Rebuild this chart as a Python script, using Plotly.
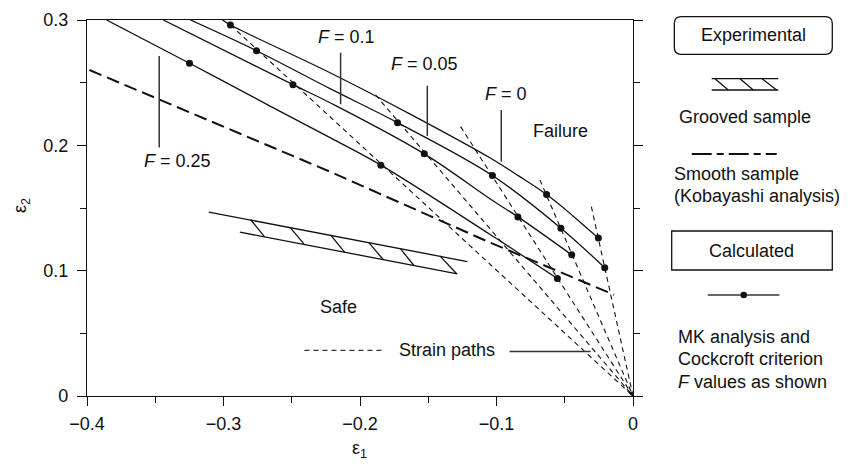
import plotly.graph_objects as go

# ---------------- data (eps1, eps2) ----------------
x_tick_vals = [-0.4, -0.3, -0.2, -0.1, 0.0]
x_tick_text = ["\u22120.4", "\u22120.3", "\u22120.2", "\u22120.1", "0"]
x_minor_vals = [-0.35, -0.25, -0.15, -0.05]
y_tick_vals = [0.0, 0.1, 0.2, 0.3]
y_tick_text = ["0", "0.1", "0.2", "0.3"]
y_minor_vals = [0.05, 0.15, 0.25]

# Calculated forming limit curves (MK analysis + Cockcroft criterion)
f0_e1 = [-0.3007, -0.2949, -0.2216, -0.1629, -0.1043, -0.0838, -0.0633, -0.0442, -0.0254]
f0_e2 = [0.3000, 0.2960, 0.2577, 0.2247, 0.1897, 0.1756, 0.1607, 0.1439, 0.1260]
f005_e1 = [-0.3242, -0.2758, -0.2216, -0.1725, -0.1030, -0.0528, -0.0207]
f005_e2 = [0.3000, 0.2755, 0.2450, 0.2181, 0.1759, 0.1339, 0.1023]
f01_e1 = [-0.3441, -0.2491, -0.2216, -0.1529, -0.1043, -0.0843, -0.0449]
f01_e2 = [0.3000, 0.2484, 0.2338, 0.1932, 0.1570, 0.1429, 0.1126]
f025_e1 = [-0.3857, -0.3249, -0.2655, -0.2216, -0.1847, -0.1043, -0.0554]
f025_e2 = [0.3000, 0.2655, 0.2311, 0.2059, 0.1842, 0.1286, 0.0937]

# MK points (dots)
dots_f0_e1 = [-0.2949, -0.0633, -0.0254]
dots_f0_e2 = [0.2960, 0.1607, 0.1260]
dots_f005_e1 = [-0.2758, -0.1725, -0.1030, -0.0528, -0.0207]
dots_f005_e2 = [0.2755, 0.2181, 0.1759, 0.1339, 0.1023]
dots_f01_e1 = [-0.2491, -0.1529, -0.0843, -0.0449]
dots_f01_e2 = [0.2484, 0.1932, 0.1429, 0.1126]
dots_f025_e1 = [-0.3249, -0.1847, -0.0554]
dots_f025_e2 = [0.2655, 0.1842, 0.0937]

# Strain paths: straight from origin to these outer points
path_end_e1 = [-0.2949, -0.1886, -0.1263, -0.0682, -0.0305]
path_end_e2 = [0.2960, 0.2402, 0.2149, 0.1724, 0.1511]

# Smooth sample (Kobayashi analysis)
smooth_e1 = [-0.3982, -0.2216, -0.1043, -0.0139]
smooth_e2 = [0.2601, 0.1788, 0.1222, 0.0808]

# Grooved sample band
groove_top_e1 = [-0.3108, -0.1214]
groove_top_e2 = [0.1467, 0.1073]
groove_bot_e1 = [-0.2880, -0.1287]
groove_bot_e2 = [0.1307, 0.0975]
hatch_top_e1 = [-0.2802, -0.2514, -0.2216, -0.1935, -0.1703, -0.1415]
hatch_top_e2 = [0.1408, 0.1347, 0.1286, 0.1224, 0.1174, 0.1118]
hatch_bot_e1 = [-0.2700, -0.2411, -0.2113, -0.1829, -0.1605, -0.1292]
hatch_bot_e2 = [0.1272, 0.1214, 0.1148, 0.1087, 0.1041, 0.0975]

# ---------------- figure ----------------
W, H = 855, 464
ML, MR, MT, MB = 87, 222, 20, 68
PW, PH = W - ML - MR, H - MT - MB
FONT = "Liberation Sans, Arial, Helvetica, sans-serif"
BLACK = "#111111"


def px_x(px):
    return (px - ML) / PW


def px_y(py):
    return (H - MB - py) / PH


fig = go.Figure()

# strain paths
sp_x, sp_y = [], []
for ex, ey in zip(path_end_e1, path_end_e2):
    sp_x += [ex, 0.0, None]
    sp_y += [ey, 0.0, None]
fig.add_trace(go.Scatter(x=sp_x, y=sp_y, mode="lines",
                         line=dict(color=BLACK, width=1.1, dash="5px,4px"),
                         hoverinfo="skip"))

# smooth sample
fig.add_trace(go.Scatter(x=smooth_e1, y=smooth_e2, mode="lines",
                         line=dict(color=BLACK, width=2, dash="13px,6px"),
                         hoverinfo="skip"))

# grooved band
fig.add_trace(go.Scatter(x=groove_top_e1, y=groove_top_e2, mode="lines",
                         line=dict(color=BLACK, width=1.3), hoverinfo="skip"))
fig.add_trace(go.Scatter(x=groove_bot_e1, y=groove_bot_e2, mode="lines",
                         line=dict(color=BLACK, width=1.3), hoverinfo="skip"))
hx, hy = [], []
for a, b, c, d in zip(hatch_top_e1, hatch_top_e2, hatch_bot_e1, hatch_bot_e2):
    hx += [a, c, None]
    hy += [b, d, None]
fig.add_trace(go.Scatter(x=hx, y=hy, mode="lines",
                         line=dict(color=BLACK, width=1.3), hoverinfo="skip"))

# calculated curves
for cx, cy in [(f0_e1, f0_e2), (f005_e1, f005_e2), (f01_e1, f01_e2), (f025_e1, f025_e2)]:
    fig.add_trace(go.Scatter(x=cx, y=cy, mode="lines",
                             line=dict(color=BLACK, width=1.3, shape="spline", smoothing=1.0),
                             hoverinfo="skip"))
for dx, dy in [(dots_f0_e1, dots_f0_e2), (dots_f005_e1, dots_f005_e2),
               (dots_f01_e1, dots_f01_e2), (dots_f025_e1, dots_f025_e2)]:
    fig.add_trace(go.Scatter(x=dx, y=dy, mode="markers",
                             marker=dict(color=BLACK, size=7), hoverinfo="skip"))

# origin marker
fig.add_trace(go.Scatter(x=[-0.0012], y=[0.002], mode="markers",
                         marker=dict(color=BLACK, size=5, symbol="triangle-down"),
                         hoverinfo="skip"))

# invisible trace on right axis
fig.add_trace(go.Scatter(x=[None], y=[None], yaxis="y2", hoverinfo="skip"))

axis_font = dict(family=FONT, size=18, color=BLACK)
fig.update_layout(
    width=W, height=H, autosize=False,
    margin=dict(l=ML, r=MR, t=MT, b=MB, autoexpand=False),
    paper_bgcolor="white", plot_bgcolor="white",
    showlegend=False,
    font=dict(family=FONT, size=18, color=BLACK),
    xaxis=dict(range=[-0.4, 0.0], tickvals=x_tick_vals, ticktext=x_tick_text,
               ticks="outside", ticklen=9, tickwidth=1.3, tickcolor=BLACK,
               showline=True, linecolor=BLACK, linewidth=1.3, mirror=True,
               showgrid=False, zeroline=False, tickfont=axis_font, automargin=False,
               ticklabelstandoff=2,
               minor=dict(tickvals=x_minor_vals, ticks="outside", ticklen=6,
                          tickwidth=1.3, tickcolor=BLACK, showgrid=False)),
    yaxis=dict(range=[0.0, 0.3], tickvals=y_tick_vals, ticktext=y_tick_text,
               ticks="outside", ticklen=9, tickwidth=1.3, tickcolor=BLACK,
               showline=True, linecolor=BLACK, linewidth=1.3, mirror=True,
               showgrid=False, zeroline=False, tickfont=axis_font, automargin=False,
               ticklabelstandoff=5,
               minor=dict(tickvals=y_minor_vals, ticks="outside", ticklen=6,
                          tickwidth=1.3, tickcolor=BLACK, showgrid=False)),
    yaxis2=dict(range=[0.0, 0.3], overlaying="y", side="right", anchor="x",
                tickvals=y_tick_vals, showticklabels=False, automargin=False,
                ticks="outside", ticklen=9, tickwidth=1.3, tickcolor=BLACK,
                showline=False, showgrid=False, zeroline=False,
                minor=dict(tickvals=y_minor_vals, ticks="outside", ticklen=6,
                           tickwidth=1.3, tickcolor=BLACK, showgrid=False)),
)

shapes = []
annotations = []

# indicator lines for F labels (data coords)
indicators = [(-0.3471, 0.2713, 0.1982), (-0.2142, 0.2739, 0.2328),
              (-0.1507, 0.2476, 0.2075), (-0.0965, 0.2282, 0.1870)]
for x0, y0, y1 in indicators:
    shapes.append(dict(type="line", xref="x", yref="y", x0=x0, x1=x0, y0=y0, y1=y1,
                       line=dict(color="#333333", width=1.5)))

# strain paths leader
shapes.append(dict(type="line", xref="x", yref="y", x0=-0.2407, x1=-0.1814, y0=0.0364, y1=0.0364,
                   line=dict(color="#333333", width=1.1, dash="5px,4px")))
shapes.append(dict(type="line", xref="x", yref="y", x0=-0.0904, x1=-0.0310, y0=0.0356, y1=0.0356,
                   line=dict(color="#333333", width=1.5)))

labels = [("<i>F</i> = 0.1", -0.2098, 0.2866), ("<i>F</i> = 0.05", -0.1525, 0.2649),
          ("<i>F</i> = 0", -0.0927, 0.2412), ("Failure", -0.0532, 0.2118),
          ("<i>F</i> = 0.25", -0.3338, 0.1877), ("Safe", -0.2155, 0.0714),
          ("Strain paths", -0.1360, 0.0364)]
for t, x, y in labels:
    annotations.append(dict(text=t, x=x, y=y, xref="x", yref="y", showarrow=False,
                            xanchor="center", yanchor="middle",
                            font=dict(family=FONT, size=18, color=BLACK)))

# axis titles
annotations.append(dict(text="\u03b5<sub>1</sub>", x=px_x(359), y=px_y(449), xref="paper", yref="paper",
                        showarrow=False, xanchor="center", yanchor="middle",
                        font=dict(family=FONT, size=18, color=BLACK)))
annotations.append(dict(text="\u03b5<sub>2</sub>", x=px_x(21), y=px_y(206), xref="paper", yref="paper",
                        showarrow=False, xanchor="center", yanchor="middle", textangle=-90,
                        font=dict(family=FONT, size=18, color=BLACK)))

# ---- legend panel (pixel positions converted to paper) ----
# rounded box "Experimental"
x0, x1, y0, y1, r = 674.3, 832.3, 16.7, 54.3, 7
path = (f"M {px_x(x0 + r)},{px_y(y0)} L {px_x(x1 - r)},{px_y(y0)} "
        f"Q {px_x(x1)},{px_y(y0)} {px_x(x1)},{px_y(y0 + r)} "
        f"L {px_x(x1)},{px_y(y1 - r)} Q {px_x(x1)},{px_y(y1)} {px_x(x1 - r)},{px_y(y1)} "
        f"L {px_x(x0 + r)},{px_y(y1)} Q {px_x(x0)},{px_y(y1)} {px_x(x0)},{px_y(y1 - r)} "
        f"L {px_x(x0)},{px_y(y0 + r)} Q {px_x(x0)},{px_y(y0)} {px_x(x0 + r)},{px_y(y0)} Z")
shapes.append(dict(type="path", xref="paper", yref="paper", path=path,
                   line=dict(color=BLACK, width=1.3)))
annotations.append(dict(text="Experimental", x=px_x(753), y=px_y(35.5), xref="paper", yref="paper",
                        showarrow=False, xanchor="center", yanchor="middle"))

# grooved sample symbol
for yy in (78.7, 90.0):
    shapes.append(dict(type="line", xref="paper", yref="paper", x0=px_x(711.7), x1=px_x(778.3),
                       y0=px_y(yy), y1=px_y(yy), line=dict(color=BLACK, width=1.3)))
for xa, xb in [(715, 728.3), (740, 753.3), (762, 776.7)]:
    shapes.append(dict(type="line", xref="paper", yref="paper", x0=px_x(xa), x1=px_x(xb),
                       y0=px_y(78.7), y1=px_y(90.0), line=dict(color=BLACK, width=1.3)))
annotations.append(dict(text="Grooved sample", x=px_x(745), y=px_y(116.7), xref="paper", yref="paper",
                        showarrow=False, xanchor="center", yanchor="middle"))

# smooth sample symbol
shapes.append(dict(type="line", xref="paper", yref="paper", x0=px_x(691.7), x1=px_x(776.7),
                    y0=px_y(154), y1=px_y(154), line=dict(color=BLACK, width=2, dash="20px,5px,7px,5px")))
annotations.append(dict(text="Smooth sample", x=px_x(671.7), y=px_y(174), xref="paper", yref="paper",
                        showarrow=False, xanchor="left", yanchor="middle"))
annotations.append(dict(text="(Kobayashi analysis)", x=px_x(671.7), y=px_y(196), xref="paper", yref="paper",
                        showarrow=False, xanchor="left", yanchor="middle"))

# Calculated box
shapes.append(dict(type="rect", xref="paper", yref="paper", x0=px_x(671.7), x1=px_x(832.3),
                   y0=px_y(231), y1=px_y(270), line=dict(color=BLACK, width=1.3)))
annotations.append(dict(text="Calculated", x=px_x(752), y=px_y(250.7), xref="paper", yref="paper",
                        showarrow=False, xanchor="center", yanchor="middle"))

# MK symbol
shapes.append(dict(type="line", xref="paper", yref="paper", x0=px_x(707.7), x1=px_x(779.3),
                   y0=px_y(295), y1=px_y(295), line=dict(color="#333333", width=1.5)))
shapes.append(dict(type="circle", xref="paper", yref="paper", x0=px_x(740.5), x1=px_x(747),
                   y0=px_y(291.8), y1=px_y(298.2), fillcolor=BLACK, line=dict(color=BLACK, width=0)))
for t, yy in [("MK analysis and", 337.3), ("Cockcroft criterion", 359.3),
              ("<i>F</i> values as shown", 381.7)]:
    annotations.append(dict(text=t, x=px_x(676), y=px_y(yy), xref="paper", yref="paper",
                            showarrow=False, xanchor="left", yanchor="middle"))

fig.update_layout(shapes=shapes, annotations=annotations)
fig.write_html(
    "out.html",
    config={"displayModeBar": False},
    post_script="document.body.style.margin='0';document.body.style.padding='0';",
)
